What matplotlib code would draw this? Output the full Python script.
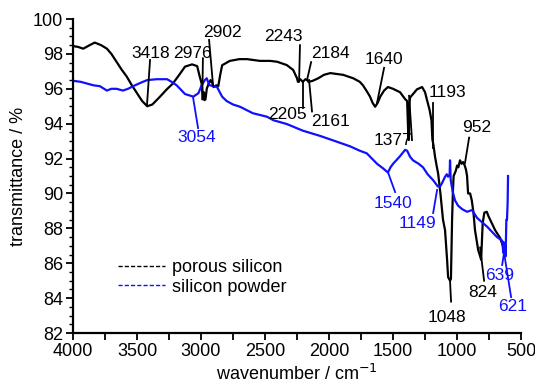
import matplotlib
matplotlib.use("Agg")
import matplotlib.pyplot as plt
from matplotlib.lines import Line2D
from matplotlib.ticker import MultipleLocator
import numpy as np

plt.rcParams['font.family'] = ['Liberation Sans Narrow', 'Liberation Sans', 'DejaVu Sans']

# ---------------- data ----------------
porous_wn = [4000, 3960, 3920, 3870, 3830, 3780, 3735, 3700, 3660, 3620, 3580, 3540,
             3500, 3460, 3420, 3380, 3320, 3270, 3220, 3170, 3125, 3070, 3030, 3010,
             2995, 2985, 2978, 2972, 2965, 2955, 2940, 2925, 2910, 2902, 2880, 2865,
             2850, 2835, 2775, 2700, 2640, 2540, 2460, 2405, 2330, 2280, 2250, 2243,
             2225, 2205, 2184, 2170, 2161, 2130, 2085, 2040, 1990, 1940, 1890, 1810,
             1760, 1735, 1700, 1680, 1660, 1640, 1620, 1600, 1570, 1540, 1500, 1445,
             1405, 1390, 1380, 1377, 1372, 1367, 1313, 1273, 1250, 1235, 1215, 1200,
             1193, 1185, 1172, 1160, 1148, 1130, 1110, 1094, 1078, 1070, 1055, 1048,
             1039, 1032, 1027, 1010, 1000, 990, 977, 965, 953, 940, 930, 922, 914,
             898, 885, 872, 860, 835, 824, 812, 800, 787, 768, 755, 742, 703, 664,
             640, 625]
porous_T = [98.45, 98.4, 98.3, 98.5, 98.65, 98.5, 98.3, 98.0, 97.55, 97.1, 96.7, 96.2,
            95.75, 95.3, 95.0, 95.1, 95.55, 95.95, 96.3, 96.8, 97.27, 97.4, 97.3, 96.7,
            96.3, 95.4, 95.8, 95.35, 95.4, 96.0, 96.3, 96.5, 96.3, 96.1, 96.2, 96.15,
            96.8, 97.35, 97.6, 97.7, 97.7, 97.6, 97.6, 97.55, 97.36, 97.08, 96.6, 96.4,
            96.55, 96.4, 96.55, 96.5, 96.4, 96.45, 96.6, 96.8, 96.9, 96.85, 96.8, 96.6,
            96.4, 96.2, 95.8, 95.55, 95.2, 94.97, 95.2, 95.55, 95.9, 96.1, 96.0, 95.8,
            95.4, 95.3, 93.1, 93.06, 95.2, 95.5, 95.97, 96.1, 95.8, 95.36, 94.8, 94.2,
            93.1, 92.8, 92.1, 91.6, 91.15, 90.0, 88.5, 87.9, 86.2, 85.2, 85.0, 85.1,
            88.5, 90.2, 91.0, 91.3, 91.6, 91.5, 91.9, 91.7, 91.8, 91.6, 91.35, 91.0, 90.0,
            90.0, 89.6, 88.9, 87.9, 86.75, 86.5, 86.2, 88.3, 88.9, 88.95, 88.7, 88.5, 87.9,
            87.45, 86.95, 86.8]

powder_wn = [4000, 3940, 3890, 3840, 3790, 3735, 3700, 3660, 3610, 3570, 3530, 3470,
             3420, 3345, 3265, 3230, 3190, 3125, 3060, 3020, 2995, 2970, 2955, 2940,
             2930, 2875, 2835, 2800, 2750, 2695, 2595, 2485, 2435, 2330, 2205, 2070,
             1940, 1835, 1760, 1705, 1665, 1625, 1580, 1540, 1520, 1500, 1450, 1406,
             1390, 1367, 1344, 1300, 1266, 1230, 1188, 1150, 1133, 1117, 1094, 1080,
             1070, 1058, 1055, 1050, 1034, 1016, 992, 960, 922, 883, 844, 766, 688,
             648, 639, 636, 630, 625, 621, 615, 610, 605, 602]
powder_T = [96.46, 96.4, 96.3, 96.2, 96.15, 95.9, 96.0, 96.0, 95.9, 96.0, 96.15, 96.35,
            96.5, 96.55, 96.55, 96.4, 96.2, 95.7, 95.55, 95.75, 96.2, 96.5, 96.6, 96.3,
            96.2, 96.1, 95.55, 95.3, 95.1, 94.97, 94.6, 94.4, 94.2, 93.98, 93.6, 93.3,
            92.97, 92.7, 92.45, 92.3, 92.0, 91.7, 91.45, 91.2, 91.5, 91.7, 92.1, 92.5,
            92.45, 92.1, 91.9, 91.7, 91.5, 91.1, 90.77, 90.4, 90.4, 90.6, 90.96, 91.1,
            90.96, 91.1, 91.9, 90.8, 90.1, 89.6, 89.3, 89.1, 88.95, 89.05, 88.6, 88.1,
            87.5, 87.3, 86.6, 87.2, 86.7, 87.0, 86.4, 88.5, 88.5, 89.5, 91.0]

series_labels = ["porous silicon", "silicon powder"]

# annotations: (label, text x, text y, leader x0, y0, x1, y1)
porous_notes = [
    ("3418", 3390, 98.05, 3398, 97.65, 3422, 95.07),
    ("2976", 3065, 98.05, 2985, 97.75, 2990, 95.4),
    ("2902", 2836, 99.2, 2937, 98.8, 2906, 96.2),
    ("2243", 2359, 98.97, 2227, 98.5, 2234, 96.4),
    ("2184", 1992, 98.05, 2140, 97.53, 2172, 96.5),
    ("2205", 2328, 94.5, 2203, 94.9, 2203, 96.4),
    ("2161", 1992, 94.1, 2133, 94.7, 2156, 96.5),
    ("1640", 1570, 97.7, 1570, 97.2, 1625, 95.2),
    ("1377", 1504, 93.06, 1352, 93.06, 1375, 95.6),
    ("1193", 1078, 95.8, 1187, 95.2, 1187, 92.6),
    ("952", 844, 93.8, 906, 93.2, 938, 91.75),
    ("1048", 1078, 82.9, 1047, 83.8, 1055, 85.0),
    ("824", 797, 84.3, 789, 85.0, 820, 86.9),
]
powder_notes = [
    ("3054", 3031, 93.2, 3023, 93.75, 3062, 95.5),
    ("1540", 1500, 89.45, 1484, 90.08, 1539, 91.2),
    ("1149", 1313, 88.3, 1187, 88.88, 1156, 90.2),
    ("639", 664, 85.3, 648, 85.9, 633, 86.6),
    ("621", 563, 83.5, 578, 84.06, 633, 86.6),
]

# ---------------- plot ----------------
fig = plt.figure(figsize=(5.35, 3.85), dpi=100)
ax = fig.add_axes([0.1364, 0.135, 0.8376, 0.8156])

black = "#000000"
blue = "#1010ff"
ax.plot(porous_wn, porous_T, color=black, lw=1.6)
ax.plot(powder_wn, powder_T, color=blue, lw=1.6)

fs = 13
afs = 12.5
for lab, tx, ty, x0, y0, x1, y1 in porous_notes:
    ax.plot([x0, x1], [y0, y1], color=black, lw=1.3)
    ax.text(tx, ty, lab, ha='center', va='center', fontsize=afs, color=black)
for lab, tx, ty, x0, y0, x1, y1 in powder_notes:
    ax.plot([x0, x1], [y0, y1], color=blue, lw=1.3)
    ax.text(tx, ty, lab, ha='center', va='center', fontsize=afs, color=blue)

ax.set_xlim(4000, 500)
ax.set_ylim(82, 100)
ax.xaxis.set_major_locator(MultipleLocator(500))
ax.xaxis.set_minor_locator(MultipleLocator(250))
ax.yaxis.set_major_locator(MultipleLocator(2))
ax.yaxis.set_minor_locator(MultipleLocator(0.5))
ax.tick_params(axis='both', which='major', direction='out', length=5, width=1.3,
               labelsize=fs, pad=2)
ax.tick_params(axis='x', which='minor', direction='out', length=5, width=1.3)
ax.tick_params(axis='y', which='minor', direction='out', length=3, width=1.0)
for s in ['top', 'right']:
    ax.spines[s].set_visible(False)
for s in ['left', 'bottom']:
    ax.spines[s].set_linewidth(1.6)

ax.set_xlabel("wavenumber / cm$^{-1}$", fontsize=fs, labelpad=3)
ax.set_ylabel("transmittance / %", fontsize=fs, labelpad=4)

handles = [Line2D([], [], color=black, lw=1.0, ls=(0, (3, 1.5))),
           Line2D([], [], color=blue, lw=1.0, ls=(0, (3, 1.5)))]
ax.legend(handles, series_labels, loc='lower left', bbox_to_anchor=(0.08, 0.09),
          frameon=False, fontsize=fs, handlelength=2.6, handletextpad=0.4,
          labelspacing=0.15, borderpad=0)

fig.savefig("out.png", dpi=100)
